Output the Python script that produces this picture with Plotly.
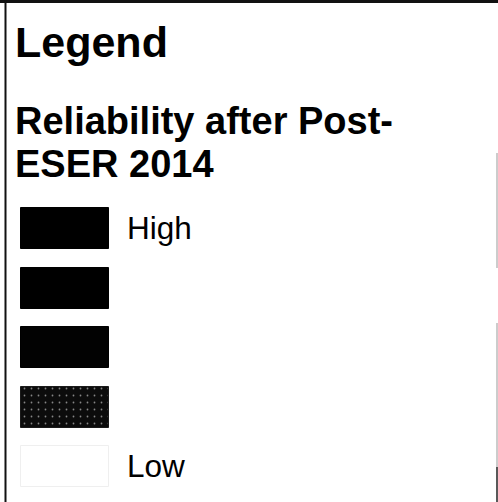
import plotly.graph_objects as go

# ---- data ----
title_text = "Legend"
subtitle_lines = ["Reliability after Post-", "ESER 2014"]
classes = ["Class 1", "Class 2", "Class 3", "Class 4", "Class 5"]
class_labels = ["High", "", "", "", "Low"]
class_colors = ["#000000", "#000000", "#020202", "#0c0c0c", "#ffffff"]
class_patterns = ["", "", "", ".", ""]

# ---- layout constants (pixels) ----
W, H = 498, 502
sw_left, sw_w, sw_h = 21, 88, 41
sw_top0, sw_step = 208, 59.5
label_x = 125.5
FONT = "Liberation Sans, Arial, sans-serif"

fig = go.Figure()

tops = [sw_top0 + i * sw_step for i in range(len(classes))]
fig.add_trace(go.Bar(
    x=[sw_left + sw_w / 2] * len(classes),
    y=[sw_h] * len(classes),
    base=tops,
    width=sw_w,
    marker=dict(
        color=class_colors,
        line=dict(color=["#000000", "#000000", "#000000", "#1a1a1a", "#efefef"], width=1),
        pattern=dict(shape=class_patterns, fgcolor="#505050", size=7, solidity=0.05,
                     fillmode="overlay"),
    ),
    orientation="v",
    hoverinfo="skip",
    showlegend=False,
    offset=-sw_w / 2,
    text=classes,
    textposition="none",
))

annotations = [dict(x=13.5, y=42, text="<b>" + title_text + "</b>", xanchor="left",
                    yanchor="middle", font=dict(family=FONT, size=43, color="#000"),
                    showarrow=False, borderpad=0)]
for i, line in enumerate(subtitle_lines):
    annotations.append(dict(x=14, y=121 + i * 43, text="<b>" + line + "</b>",
                            xanchor="left", yanchor="middle",
                            font=dict(family=FONT, size=38, color="#000"),
                            showarrow=False, borderpad=0))
for t, lab in zip(tops, class_labels):
    if lab:
        annotations.append(dict(x=label_x, y=t + sw_h / 2 - 0.5, text=lab,
                                xanchor="left", yanchor="middle",
                                font=dict(family=FONT, size=31.5, color="#000"),
                                showarrow=False, borderpad=0))

shapes = [
    dict(type="line", x0=0, x1=W, y0=1.5, y1=1.5, line=dict(color="#111", width=3)),
    dict(type="line", x0=5.5, x1=5.5, y0=0, y1=H, line=dict(color="#111", width=2)),
    dict(type="line", x0=497, x1=497, y0=153, y1=268, line=dict(color="#999", width=1)),
    dict(type="line", x0=497, x1=497, y0=323, y1=467, line=dict(color="#999", width=1)),
    dict(type="line", x0=497, x1=497, y0=467, y1=H, line=dict(color="#222", width=1.5)),
]

fig.update_layout(
    width=W, height=H, autosize=False,
    margin=dict(l=0, r=0, t=0, b=0, pad=0),
    paper_bgcolor="white", plot_bgcolor="white",
    xaxis=dict(range=[0, W], visible=False, fixedrange=True),
    yaxis=dict(range=[H, 0], visible=False, fixedrange=True),
    annotations=annotations,
    shapes=shapes,
    bargap=0,
)

fig.write_html(
    "out.html",
    config={"displayModeBar": False, "responsive": False},
    post_script="document.body.style.margin='0';document.body.style.overflow='hidden';",
)
